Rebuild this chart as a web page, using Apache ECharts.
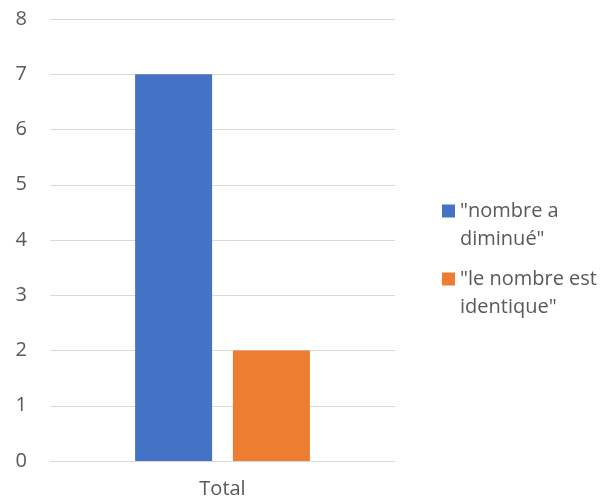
<!DOCTYPE html>
<html>
<head>
<meta charset="utf-8">
<script src="https://cdn.jsdelivr.net/npm/echarts@6/dist/echarts.min.js"></script>
<style>
  html, body { margin: 0; padding: 0; background: #fff; }
  #chart { width: 612px; height: 499px; }
</style>
</head>
<body>
<div id="chart"></div>
<script>
// Survey result, one category, two answers
const categories = ['Total'];
const seriesNames = ['"nombre a diminué"', '"le nombre est identique"'];
const legendLines = ['"nombre a\ndiminué"', '"le nombre est\nidentique"'];
const seriesValues = [[7], [2]];
const yTicks = { min: 0, max: 8, step: 1 };

const colors = ['#4472C4', '#ED7D31'];
const textColor = '#595959';
const fontFamily = '"Open Sans", "Noto Sans", sans-serif';

const chart = echarts.init(document.getElementById('chart'), null, { renderer: 'canvas' });

chart.setOption({
  animation: false,
  color: colors,
  textStyle: { fontFamily: fontFamily },
  grid: { left: 50, right: 217, top: 19, bottom: 38, containLabel: false },
  xAxis: {
    type: 'category',
    data: categories,
    axisLine: { show: true, lineStyle: { color: '#D9D9D9', width: 1 } },
    axisTick: { show: false },
    axisLabel: { color: textColor, fontSize: 20, margin: 18, fontFamily: fontFamily }
  },
  yAxis: {
    type: 'value',
    min: yTicks.min,
    max: yTicks.max,
    interval: yTicks.step,
    axisLine: { show: false },
    axisTick: { show: false },
    axisLabel: { color: textColor, fontSize: 20, margin: 23, fontFamily: fontFamily },
    splitLine: { lineStyle: { color: '#D9D9D9', width: 1 } }
  },
  legend: {
    orient: 'vertical',
    left: 437,
    top: 164,
    itemWidth: 13,
    itemHeight: 13,
    itemGap: -16,
    icon: 'rect',
    selectedMode: false,
    data: seriesNames,
    // blank first line keeps the marker level with the first text line
    formatter: function (name) {
      return '\n' + legendLines[seriesNames.indexOf(name)];
    },
    textStyle: { color: textColor, fontSize: 20, lineHeight: 28, fontFamily: fontFamily }
  },
  series: seriesNames.map(function (name, i) {
    return {
      name: name,
      type: 'bar',
      data: seriesValues[i],
      barWidth: 77,
      barGap: '27%'
    };
  })
});
</script>
</body>
</html>
